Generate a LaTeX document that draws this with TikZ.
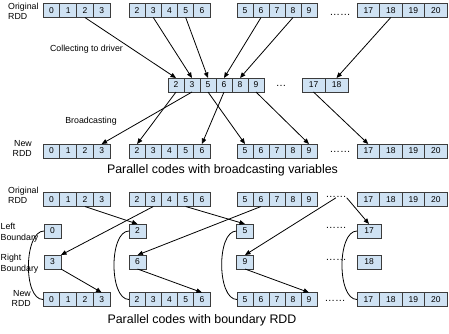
\documentclass[tikz,border=0pt]{standalone}
\usepackage{fontspec}
\setmainfont{Liberation Sans}
\usepackage{tikz}
\usetikzlibrary{arrows.meta, positioning}
\usepackage{xcolor}
\definecolor{cellblue}{RGB}{207,226,243}
\definecolor{cellline}{RGB}{60,60,60}

\begin{document}
\begin{tikzpicture}[
    x=1pt, y=-1pt,
    cell/.style={rectangle, draw=cellline, fill=cellblue, line width=0.8pt, minimum height=14pt, inner sep=0pt, outer sep=0pt, font=\fontsize{8.5}{9}\selectfont},
    bbox/.style={cell, minimum width=17pt},
    lbl/.style={inner sep=0pt, font=\fontsize{8.8}{10.5}\selectfont},
    caption/.style={inner sep=0pt, font=\fontsize{12.4}{14}\selectfont},
    dots/.style={inner sep=0pt, font=\fontsize{10.5}{11}\selectfont},
    arrow/.style={-{Triangle[length=5.5pt, width=4.5pt]}, line width=0.8pt},
    link/.style={line width=0.8pt},
]
    \useasboundingbox (0,0) rectangle (449,333);

    % RDD rows: t = original (top), n = new (top), b = original (bottom), m = new (bottom)
    \foreach \r/\y in {t/10.5, n/151, b/199.5, m/299.5} {
        \foreach \v [count=\i from 0] in {0,...,3}
            \node[cell, minimum width=16.75pt] (\r a\i) at ({43+16.75*(\i+0.5)}, \y) {\v};
        \foreach \v [count=\i from 0] in {2,...,6}
            \node[cell, minimum width=16.2pt] (\r b\i) at ({129+16.2*(\i+0.5)}, \y) {\v};
        \foreach \v [count=\i from 0] in {5,...,9}
            \node[cell, minimum width=16pt] (\r c\i) at ({237+16*(\i+0.5)}, \y) {\v};
        \foreach \v [count=\i from 0] in {17,...,20}
            \node[cell, minimum width=22.5pt] (\r d\i) at ({357+22.5*(\i+0.5)}, \y) {\v};
    }

    % Values collected on the driver
    \foreach \v [count=\i from 0] in {2,3,5,6,8,9}
        \node[cell, minimum width=16pt] (dr\i) at ({168+16*(\i+0.5)}, 85) {\v};
    \foreach \v [count=\i from 0] in {17,18}
        \node[cell, minimum width=23pt] (dx\i) at ({302+23*(\i+0.5)}, 85) {\v};

    % Boundary RDD
    \node[bbox] (lfa) at (52.5, 231) {0};
    \node[bbox] (lfb) at (137.5, 231) {2};
    \node[bbox] (lfc) at (245, 231) {5};
    \node[bbox, minimum width=24pt] (lfd) at (369, 231) {17};
    \node[bbox] (rta) at (52.5, 262) {3};
    \node[bbox] (rtb) at (137.5, 262) {6};
    \node[bbox] (rtc) at (245, 262) {9};
    \node[bbox, minimum width=24pt] (rtd) at (369, 262) {18};

    % Dots
    \node[dots] (tdots) at (340, 15) {……};
    \node[dots] (ddots) at (281, 86) {…};
    \node[dots] (ndots) at (340, 152) {……};
    \node[dots] (bdots) at (336, 197) {……};
    \node[dots] (ldots) at (336, 228) {……};
    \node[dots] (rdots) at (336, 260) {……};
    \node[dots] (mdots) at (335, 301) {……};

    % Labels
    \node[lbl, anchor=west, align=left] (orig1) at (8, 11.5) {Original\\RDD};
    \node[lbl] (collect) at (86.5, 49) {Collecting to driver};
    \node[lbl] (bcast) at (91, 121) {Broadcasting};
    \node[lbl, anchor=east, align=right] (new1) at (32, 148.5) {New\\RDD};
    \node[caption] (cap1) at (222.5, 170) {Parallel codes with broadcasting variables};
    \node[lbl, anchor=west, align=left] (orig2) at (8, 195.5) {Original\\RDD};
    \node[lbl, anchor=west, align=left] (left) at (0.5, 232.5) {Left\\Boundary};
    \node[lbl, anchor=west, align=left] (right) at (0.5, 263.5) {Right\\Boundary};
    \node[lbl, anchor=east, align=right] (new2) at (31, 298.5) {New\\RDD};
    \node[caption] (cap2) at (202, 320) {Parallel codes with boundary RDD};

    % Collecting to driver
    \draw[arrow] (ta2.south) -- (dr0.north);
    \draw[arrow] (tb1.south) -- (dr1.north);
    \draw[arrow] (tb3.south) -- (dr2.north);
    \draw[arrow] (tc1.south) -- (dr3.north);
    \draw[arrow] (tc3.south) -- (dr4.north);
    \draw[arrow] (td1.south) -- (dx1.north);

    % Broadcasting
    \draw[arrow] (dr0.south) -- (nb0.north);
    \draw[arrow] (dr1.south) -- (na3.north);
    \draw[arrow] (dr2.south) -- (nc0.north);
    \draw[arrow] (dr3.south) -- (nb4.north);
    \draw[arrow] (dr5.south) -- (nc4.north);
    \draw[arrow] (dx0.south) -- (nd0.north);

    % Boundary RDD
    \draw[arrow] (ba2.south) -- (lfb.north);
    \draw[arrow] (bb1.south) -- (rta.north east);
    \draw[arrow] (bb3.south) -- (lfc.north);
    \draw[arrow] (bc1.south) -- (rtb.north);
    \draw[arrow] (bdots.south) -- (rtc.north);
    \draw[arrow] (bdots.south east) -- (lfd.north);
    \draw[arrow] (rta.south east) -- (ma3.north);
    \draw[arrow] (rtb.south) -- (mb4.north);
    \draw[arrow] (rtc.south) -- (mc4.north);

    % Left boundary joined to the new partitions
    \draw[link] (lfa.west) to[out=180, in=180, looseness=0.75] (ma0.west);
    \draw[link] (lfb.west) to[out=180, in=180, looseness=0.75] (mb0.west);
    \draw[link] (lfc.west) to[out=180, in=180, looseness=0.75] (mc0.west);
    \draw[link] (lfd.west) to[out=180, in=180, looseness=0.75] (md0.west);
\end{tikzpicture}
\end{document}
